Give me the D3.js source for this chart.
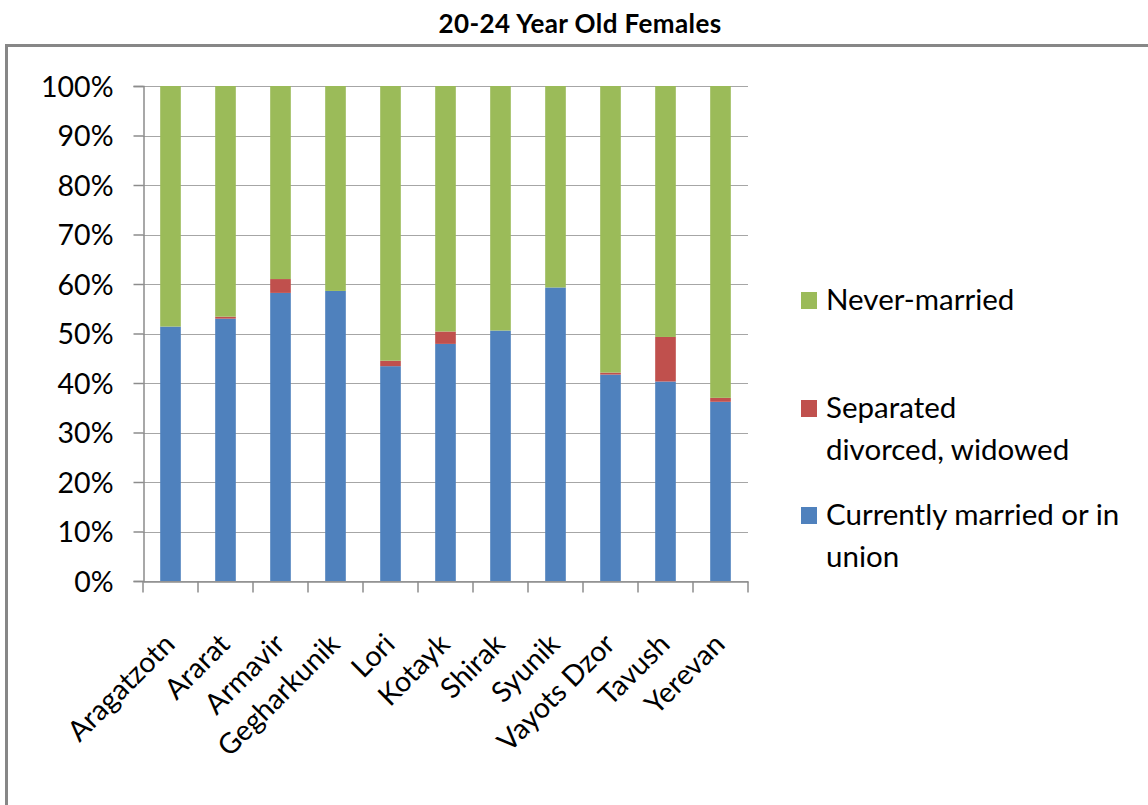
<!DOCTYPE html>
<html>
<head>
<meta charset="utf-8">
<script src="https://cdn.jsdelivr.net/npm/d3@7"></script>
<style>
  html, body { margin: 0; padding: 0; background: #fff; }
  svg { display: block; }
  text { font-family: Lato, "Open Sans", sans-serif; fill: #000; }
</style>
</head>
<body>
<svg id="chart" width="1148" height="805"></svg>
<script>
const categories = ["Aragatzotn", "Ararat", "Armavir", "Gegharkunik", "Lori", "Kotayk", "Shirak", "Syunik", "Vayots Dzor", "Tavush", "Yerevan"];
const currentlyMarried = [51.4, 53.0, 58.2, 58.6, 43.4, 47.9, 50.6, 59.3, 41.7, 40.3, 36.2];
const separated = [0.0, 0.4, 2.8, 0.0, 1.1, 2.5, 0.0, 0.0, 0.4, 9.0, 0.8];
const neverMarried = [48.6, 46.6, 39.0, 41.4, 55.5, 49.6, 49.4, 40.7, 57.9, 50.7, 63.0];
const yTicks = [0, 10, 20, 30, 40, 50, 60, 70, 80, 90, 100];
const title = "20-24 Year Old Females";
const seriesNames = ["Currently married or in union", "Separated divorced, widowed", "Never-married"];
const seriesKeys = ["married", "separated", "never"];
const colors = ["#4F81BD", "#C0504D", "#9BBB59"];
const legendLines = [["Never-married"], ["Separated", "divorced, widowed"], ["Currently married or in", "union"]];

const svg = d3.select("#chart");

// frame
svg.append("rect")
  .attr("x", 6.5).attr("y", 45.5)
  .attr("width", 1200).attr("height", 900)
  .attr("fill", "none").attr("stroke", "#878787").attr("stroke-width", 3);

// title
svg.append("text")
  .attr("x", 580).attr("y", 33)
  .attr("text-anchor", "middle")
  .style("font-weight", "bold").style("font-size", "26px")
  .style("letter-spacing", "0.4px")
  .text(title);

const margin = { left: 143, right: 748, top: 86, bottom: 581 };
const x = d3.scaleBand().domain(categories).range([margin.left, margin.right]).padding(0);
const y = d3.scaleLinear().domain([0, 100]).range([margin.bottom, margin.top]);

// gridlines
svg.append("g")
  .selectAll("line").data(yTicks).join("line")
  .attr("x1", margin.left).attr("x2", margin.right)
  .attr("y1", d => Math.round(y(d)) + 0.5).attr("y2", d => Math.round(y(d)) + 0.5)
  .attr("stroke", "#a6a6a6").attr("stroke-width", 1.2);

// data table
const rows = categories.map((c, i) => ({ cat: c, married: currentlyMarried[i], separated: separated[i], never: neverMarried[i] }));
const stacked = d3.stack().keys(seriesKeys)(rows);

const barW = x.bandwidth() * 0.375;
svg.append("g").selectAll("g").data(stacked).join("g")
  .attr("fill", (d, i) => colors[i])
  .selectAll("rect").data(d => d).join("rect")
  .attr("x", d => x(d.data.cat) + (x.bandwidth() - barW) / 2)
  .attr("width", barW)
  .attr("y", d => y(d[1]))
  .attr("height", d => Math.max(0, y(d[0]) - y(d[1])));

// y axis
const yAxis = svg.append("g")
  .attr("transform", `translate(${margin.left + 0.5},0)`)
  .call(d3.axisLeft(y).tickValues(yTicks).tickFormat(d => d + "%").tickSize(10).tickPadding(20));
yAxis.select(".domain").attr("stroke", "#8c8c8c").attr("stroke-width", 1.5);
yAxis.selectAll(".tick line").attr("stroke", "#8c8c8c").attr("stroke-width", 1.5);
yAxis.selectAll(".tick text").style("font-size", "28.5px").attr("dy", "0.36em");

// x axis
const xAxis = svg.append("g")
  .attr("transform", `translate(0,${margin.bottom + 0.5})`)
  .call(d3.axisBottom(x).tickSize(0).tickFormat(""));
xAxis.select(".domain").attr("stroke", "#8c8c8c").attr("stroke-width", 1.5);
// boundary ticks
const bounds = categories.map(c => x(c)).concat([x.range()[1]]);
xAxis.selectAll(".btick").data(bounds).join("line")
  .attr("class", "btick")
  .attr("x1", d => d).attr("x2", d => d)
  .attr("y1", 0).attr("y2", 11)
  .attr("stroke", "#8c8c8c").attr("stroke-width", 1.5);
// labels
svg.append("g").selectAll("text").data(categories).join("text")
  .attr("transform", d => `translate(${x(d) + x.bandwidth() / 2 + 6},${margin.bottom + 65}) rotate(-45)`)
  .attr("text-anchor", "end")
  .style("font-size", "28.5px")
  .text(d => d);

// legend
const legendY = [300, 408, 515];
const lg = svg.append("g");
legendLines.forEach((lines, i) => {
  const ci = 2 - i;
  lg.append("rect")
    .attr("x", 801).attr("y", legendY[i] - 8)
    .attr("width", 16).attr("height", 17)
    .attr("fill", colors[ci]);
  const t = lg.append("text")
    .attr("x", 826).attr("y", legendY[i] + 10)
    .style("font-size", "29.5px");
  lines.forEach((ln, j) => {
    t.append("tspan").attr("x", 826).attr("dy", j === 0 ? 0 : 42).text(ln);
  });
});
</script>
</body>
</html>
